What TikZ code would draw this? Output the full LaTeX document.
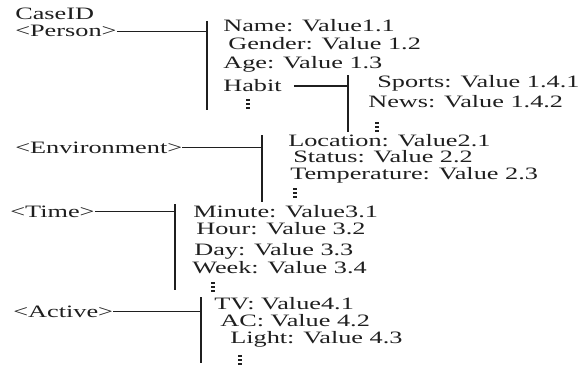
\documentclass[tikz,border=0pt]{standalone}
\usepackage{fontspec}
\setmainfont{Liberation Serif}
\definecolor{ink}{gray}{0.12}
\tikzset{
  lbl/.style={inner sep=0pt, anchor=base west, font=\fontsize{17.4}{20}\selectfont, text=ink, xscale=1.51},
  conn/.style={line width=1.3pt, draw=ink},
  bar/.style={line width=1.9pt, draw=ink},
  dotbar/.style={fill=ink},
}
\newcommand\vdotmark[3]{%
  \coordinate (#1) at (#2,#3);
  \fill[dotbar] ([xshift=-2pt]#1) rectangle ([xshift=2pt,yshift=-2pt]#1);
  \fill[dotbar] ([xshift=-2pt,yshift=-4pt]#1) rectangle ([xshift=2pt,yshift=-6pt]#1);
  \fill[dotbar] ([xshift=-2pt,yshift=-8pt]#1) rectangle ([xshift=2pt,yshift=-10pt]#1);
}
\begin{document}
\begin{tikzpicture}[x=1pt,y=-1pt]
\useasboundingbox[fill=white] (0,0) rectangle (586,369);

% Case / Person
\node[lbl] (caseid) at (15,20) {CaseID};
\node[lbl] (person) at (15,37) {<Person>};
\coordinate (v1t) at (207,21);
\coordinate (v1b) at (207,110);
\draw[bar] (v1t) -- (v1b);
\draw[conn] (person.east) -- (v1t |- person.east);
\node[lbl] (name) at (223,32) {Name: Value1.1};
\node[lbl] (gender) at (228,50) {Gender: Value 1.2};
\node[lbl] (age) at (223,68) {Age: Value 1.3};
\node[lbl] (habit) at (223,92) {Habit};
\vdotmark{d1}{248}{99}

% Habit
\coordinate (v2t) at (348,75);
\coordinate (v2b) at (348,132);
\draw[bar] (v2t) -- (v2b);
\draw[conn] ([xshift=12pt]habit.east) -- (v2t |- habit.east);
\node[lbl] (sports) at (377,88) {Sports: Value 1.4.1};
\node[lbl] (news) at (368,107) {News: Value 1.4.2};
\vdotmark{d2}{377}{122}

% Environment
\node[lbl] (env) at (15,153) {<Environment>};
\coordinate (v3t) at (262,135);
\coordinate (v3b) at (262,202);
\draw[bar] (v3t) -- (v3b);
\draw[conn] (env.east) -- (v3t |- env.east);
\node[lbl] (loc) at (288,146) {Location: Value2.1};
\node[lbl] (status) at (293,162) {Status: Value 2.2};
\node[lbl] (temp) at (290,179) {Temperature: Value 2.3};
\vdotmark{d3}{295}{188}

% Time
\node[lbl] (time) at (10,217) {<Time>};
\coordinate (v4t) at (175,204);
\coordinate (v4b) at (175,290);
\draw[bar] (v4t) -- (v4b);
\draw[conn] (time.east) -- (v4t |- time.east);
\node[lbl] (minute) at (193,217) {Minute: Value3.1};
\node[lbl] (hour) at (196,234) {Hour: Value 3.2};
\node[lbl] (day) at (194,255) {Day: Value 3.3};
\node[lbl] (week) at (192,273) {Week: Value 3.4};
\vdotmark{d4}{213}{282}

% Active
\node[lbl] (active) at (13,317) {<Active>};
\coordinate (v5t) at (201,297);
\coordinate (v5b) at (201,363);
\draw[bar] (v5t) -- (v5b);
\draw[conn] (active.east) -- (v5t |- active.east);
\node[lbl] (tv) at (214,309) {TV: Value4.1};
\node[lbl] (ac) at (220,326) {AC: Value 4.2};
\node[lbl] (light) at (230,343) {Light: Value 4.3};
\vdotmark{d5}{240}{355}
\end{tikzpicture}
\end{document}
